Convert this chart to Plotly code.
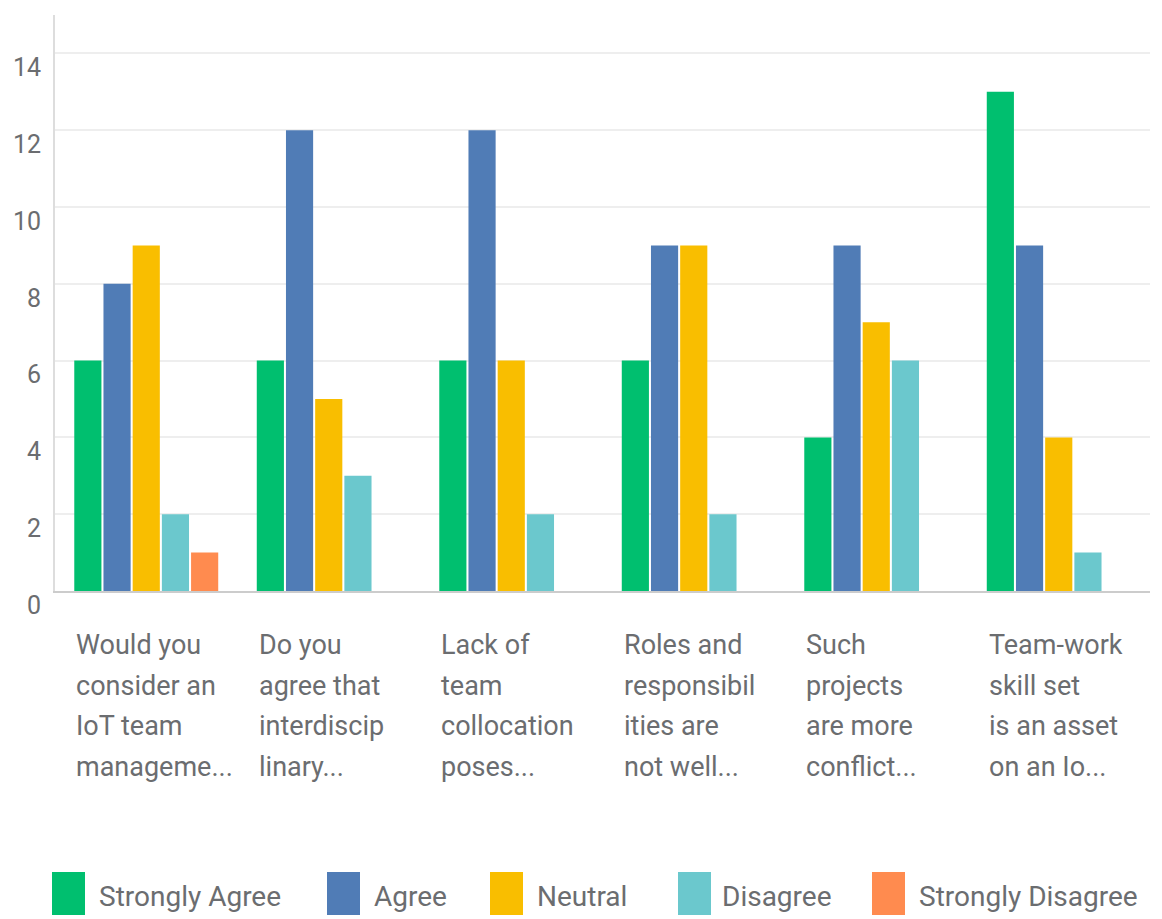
import plotly.graph_objects as go

categories = [
    "Would you<br>consider an<br>IoT team<br>manageme...",
    "Do you<br>agree that<br>interdiscip<br>linary...",
    "Lack of<br>team<br>collocation<br>poses...",
    "Roles and<br>responsibil<br>ities are<br>not well...",
    "Such<br>projects<br>are more<br>conflict...",
    "Team-work<br>skill set<br>is an asset<br>on an Io...",
]
series_names = ["Strongly Agree", "Agree", "Neutral", "Disagree", "Strongly Disagree"]
strongly_agree = [6, 6, 6, 6, 4, 13]
agree = [8, 12, 12, 9, 9, 9]
neutral = [9, 5, 6, 9, 7, 4]
disagree = [2, 3, 2, 2, 6, 1]
strongly_disagree = [1, 0, 0, 0, 0, 0]
series_values = [strongly_agree, agree, neutral, disagree, strongly_disagree]
colors = ["#00BF6F", "#507CB6", "#F9BE00", "#6BC8CD", "#FF8B4F"]

# page offset: the html body has an 8px margin
OFF = 8
W, H = 1162 - OFF, 919 - OFF
PLOT_L, PLOT_R, PLOT_T, PLOT_B = 55, 1150, 15, 591  # page pixels
L, T = PLOT_L - OFF, PLOT_T - OFF
R, B = W - (PLOT_R - OFF), H - (PLOT_B - OFF)
PW, PH = PLOT_R - PLOT_L, PLOT_B - PLOT_T
FONT = "Roboto"
GREY = "#6B6D70"


def px_x(p):
    return (p - PLOT_L) / PW


def px_y(p):
    return (PLOT_B - p) / PH


x_idx = list(range(len(categories)))
fig = go.Figure()
for name, vals, col in zip(series_names, series_values, colors):
    fig.add_trace(go.Bar(
        x=x_idx, y=vals, name=name, marker=dict(color=col, line=dict(width=0)),
        showlegend=False,
    ))

# category labels, one annotation per line (reference uses tall line spacing)
for i, cat in enumerate(categories):
    for k, line in enumerate(cat.split("<br>")):
        fig.add_annotation(
            x=i, y=px_y(645 + 40.5 * k), xref="x", yref="paper", text=line,
            showarrow=False, xanchor="left", yanchor="middle", xshift=-72,
            font=dict(family=FONT, size=27, color=GREY),
        )

# custom legend
legend_pos = [(52, 97), (327, 372), (490, 535), (678, 720), (872, 917)]
for (sx, tx), name, col in zip(legend_pos, series_names, colors):
    fig.add_shape(
        type="rect", xref="paper", yref="paper",
        x0=px_x(sx), x1=px_x(sx + 33), y0=px_y(872), y1=px_y(915),
        fillcolor=col, line=dict(width=0), layer="above",
    )
    fig.add_annotation(
        x=px_x(tx), y=px_y(896), xref="paper", yref="paper", text=name,
        showarrow=False, xanchor="left", yanchor="middle",
        font=dict(family=FONT, size=28, color=GREY),
    )

fig.update_layout(
    width=W, height=H,
    margin=dict(l=L, r=R, t=T, b=B, autoexpand=False),
    barmode="group", bargap=0.2, bargroupgap=0.07,
    plot_bgcolor="white", paper_bgcolor="white",
    font=dict(family=FONT, color=GREY),
)
fig.update_xaxes(
    range=[-0.5, len(categories) - 0.5], showticklabels=False, showgrid=False,
    showline=True, linecolor="#CCCCCC", linewidth=2, zeroline=False,
    automargin=False,
)
fig.update_yaxes(
    range=[0, 15], tickvals=[0, 2, 4, 6, 8, 10, 12, 14],
    showgrid=True, gridcolor="#EEEEEE", gridwidth=2, zeroline=False,
    showline=True, linecolor="#DDDDDD", linewidth=2,
    tickfont=dict(family=FONT, size=25, color=GREY),
    ticklabelshift=14, ticklabelstandoff=7, automargin=False,
)

fig.write_html("out.html")
